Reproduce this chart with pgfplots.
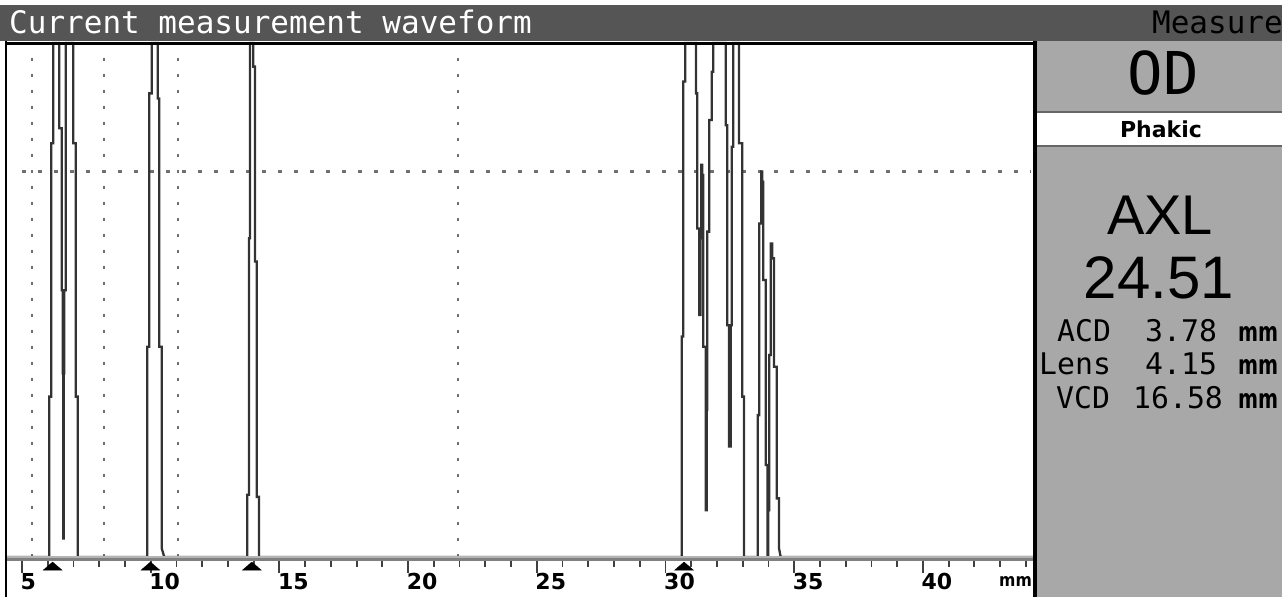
\documentclass[border=0pt]{standalone}
\usepackage{fontspec}
\setmainfont{DejaVu Sans}
\newfontfamily\monofont{DejaVu Sans Mono}
\newfontfamily\libsans{Liberation Sans}
\usepackage{pgfplots}
\pgfplotsset{compat=1.18}
\definecolor{titlebar}{HTML}{555555}
\definecolor{panel}{HTML}{A8A8A8}
\definecolor{trace}{HTML}{333333}
\definecolor{gridc}{HTML}{707070}
\definecolor{tickc}{HTML}{404040}
\definecolor{bandlight}{HTML}{B4B4B4}
\definecolor{banddark}{HTML}{808080}
\definecolor{sepc}{HTML}{666666}
\begin{document}
\begin{tikzpicture}[x=1bp,y=1bp]
\useasboundingbox (0,0) rectangle (1282,597);
\fill[white] (0,0) rectangle (1282,597);
% title bar
\fill[titlebar] (0,556) rectangle (1282,592);
\node[anchor=base west, inner sep=0pt, text=white, font=\monofont\fontsize{31bp}{31bp}\selectfont] at (9,563) {Current measurement waveform};
\node[anchor=base east, inner sep=0pt, text=black, font=\monofont\fontsize{31bp}{31bp}\selectfont] at (1283,563) {Measure};
% right panel
\fill[panel] (1035,0) rectangle (1282,556);
\fill[white] (1035,452) rectangle (1282,484);
\draw[sepc, line width=2.5bp] (1035,485) -- (1282,485);
\draw[sepc, line width=2bp] (1035,451) -- (1282,451);
\node[anchor=base, inner sep=0pt, font=\monofont\fontsize{59bp}{59bp}\selectfont] at (1163,502) {OD};
\node[anchor=base, inner sep=0pt, font=\bfseries\fontsize{22bp}{22bp}\selectfont] at (1161,459.7) {Phakic};
\node[anchor=base, inner sep=0pt, font=\libsans\fontsize{56bp}{56bp}\selectfont] at (1160,362) {AXL};
\node[anchor=base, inner sep=0pt, font=\libsans\fontsize{60bp}{60bp}\selectfont] at (1159,298.7) {24.51};
\node[anchor=base west, inner sep=0pt, font=\monofont\fontsize{29.8bp}{29.8bp}\selectfont] at (1057,255.3) {ACD};
\node[anchor=base west, inner sep=0pt, font=\monofont\fontsize{29.8bp}{29.8bp}\selectfont] at (1145,255.3) {3.78};
\node[anchor=base west, inner sep=0pt, font=\monofont\fontsize{29.8bp}{29.8bp}\selectfont] at (1039,222) {Lens};
\node[anchor=base west, inner sep=0pt, font=\monofont\fontsize{29.8bp}{29.8bp}\selectfont] at (1145,222) {4.15};
\node[anchor=base west, inner sep=0pt, font=\monofont\fontsize{29.8bp}{29.8bp}\selectfont] at (1056,188.7) {VCD};
\node[anchor=base west, inner sep=0pt, font=\monofont\fontsize{29.8bp}{29.8bp}\selectfont] at (1133,188.7) {16.58};
\node[anchor=south west, inner sep=0pt] at (1238,255.3) {\resizebox{40bp}{15bp}{\bfseries mm}};
\node[anchor=south west, inner sep=0pt] at (1238,222) {\resizebox{40bp}{15bp}{\bfseries mm}};
\node[anchor=south west, inner sep=0pt] at (1238,188.7) {\resizebox{40bp}{15bp}{\bfseries mm}};
\begin{axis}[
  at={(6.5bp,36bp)}, anchor=south west,
  width=1027.5bp, height=518bp, scale only axis,
  xmin=4.398, xmax=44.316, ymin=-0.778, ymax=100,
  clip=false,
  axis x line*=bottom, axis y line=none,
  axis line style={draw=none},
  xtick={5,10,15,20,25,30,35,40},
  xticklabels={5,10,15,20,25,30,35,40},
  minor xtick={5,6,...,44},
  tick align=outside,
  major tick length=12bp, minor tick length=6bp,
  tick style={color=tickc, line width=1.8bp},
  xticklabel style={font=\bfseries\fontsize{22bp}{22bp}\selectfont, anchor=north west, inner sep=0pt, xshift=-1.5bp, text=black},
]
% gridlines
\addplot[gridc, line width=2.2bp, dash pattern=on 2.5bp off 13.5bp] coordinates {(5.377,0) (5.377,100)};
\addplot[gridc, line width=2.2bp, dash pattern=on 2.5bp off 13.5bp] coordinates {(8.186,0) (8.186,100)};
\addplot[gridc, line width=2.2bp, dash pattern=on 2.5bp off 13.5bp] coordinates {(11.06,0) (11.06,100)};
\addplot[gridc, line width=2.2bp, dash pattern=on 2.5bp off 13.5bp] coordinates {(21.94,0) (21.94,100)};
\addplot[gridc, line width=2.2bp, dash pattern=on 4bp off 12bp] coordinates {(5.0,75) (44.2,75)};
% waveform
\addplot[trace, line width=2.3bp] coordinates {
(4.398,0)
(6.061,0)(6.061,31.2)(6.138,31.2)(6.138,80.5)(6.216,80.5)(6.216,100)
(6.449,100)(6.449,83.4)(6.542,83.4)(6.542,51.9)(6.58,51.9)(6.58,35.7)(6.604,35.7)(6.604,3.6)
(6.62,3.6)(6.62,35.7)(6.645,35.7)(6.645,51.9)(6.698,51.9)(6.698,100)
(6.993,100)(6.993,80.5)(7.086,80.5)(7.086,31.2)(7.164,31.2)(7.164,0)
(9.868,0)(9.868,40.9)(9.946,40.9)(9.946,90.2)(10.039,90.2)(10.039,100)
(10.272,100)(10.272,89.2)(10.334,89.2)(10.334,40.9)(10.427,40.9)(10.427,1.7)(10.528,0)
(13.753,0)(13.753,12.1)(13.819,12.1)(13.819,62)(13.858,62)(13.858,100)
(13.986,100)(13.986,95.4)(14.052,95.4)(14.052,57.5)(14.118,57.5)(14.118,11.7)(14.207,11.7)(14.207,0)
(30.629,0)(30.629,42.9)(30.692,42.9)(30.692,92.5)(30.770,92.5)(30.770,100)
(31.185,100)(31.185,90.2)(31.236,90.2)(31.236,63.9)(31.314,63.9)(31.314,47.1)
(31.36,47.1)(31.36,62.0)(31.391,62.0)(31.391,76.3)
(31.43,76.3)(31.43,74.3)(31.469,74.3)(31.469,40.9)(31.561,40.9)(31.561,9.1)
(31.600,9.1)(31.600,28.6)(31.624,28.6)(31.624,63.3)(31.702,63.3)(31.702,85.0)(31.795,85.0)(31.795,94.4)(31.857,94.4)(31.857,100)
(32.338,100)(32.338,84.0)(32.401,84.0)(32.401,45.1)(32.47,45.1)(32.47,21.5)
(32.53,21.5)(32.53,45.1)(32.572,45.1)(32.572,79.8)(32.634,79.8)(32.634,100)
(32.855,100)(32.855,80.5)(32.984,80.5)(32.984,31.2)(33.050,31.2)(33.050,0)
(33.582,0)(33.582,27.6)(33.645,27.6)(33.645,64.9)(33.722,64.9)(33.722,75.0)
(33.76,75.0)(33.76,73.0)(33.800,73.0)(33.800,53.9)(33.893,53.9)(33.893,17.9)(33.96,17.9)(33.96,0)
(33.99,0)(33.99,9.1)(34.033,9.1)(34.033,39.3)(34.087,39.3)(34.087,61.0)
(34.15,61.0)(34.15,58.1)(34.215,58.1)(34.215,37.0)(34.320,37.0)(34.320,11.4)(34.409,11.4)(34.409,1.7)(34.476,0)
(44.316,0)
};
% baseline band
\fill[banddark] (4.398,-0.778) rectangle (44.316,-0.195);
\fill[bandlight] (4.398,-0.195) rectangle (44.316,0.195);
% gate markers
\addplot[only marks, mark=triangle*, mark size=11bp, mark options={yscale=0.5, fill=black, draw=black, line width=0.3bp}] coordinates {(6.19,-2.04) (9.99,-2.04) (13.93,-2.04) (30.72,-2.04)};
\end{axis}
% ruler unit
\node[anchor=south west, inner sep=0pt] at (999,10.3) {\resizebox{32.7bp}{10bp}{\bfseries mm}};
% frame
\draw[black, line width=2.5bp] (6.2,0) -- (6.2,556);
\draw[black, line width=4bp] (1034.5,0) -- (1034.5,556);
\draw[black, line width=3.5bp] (5,553.5) -- (1036.5,553.5);
\end{tikzpicture}
\end{document}
